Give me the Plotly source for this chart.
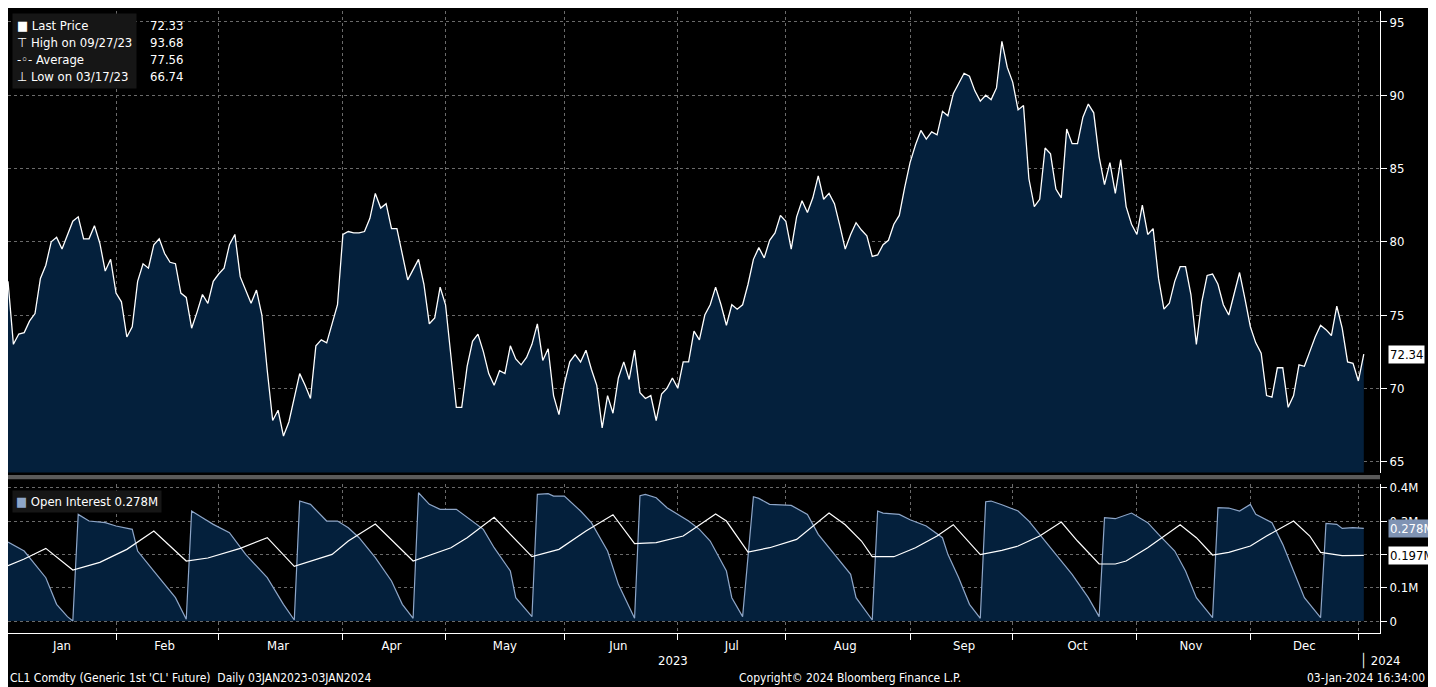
import pandas as pd
import plotly.graph_objects as go
from plotly.subplots import make_subplots

# CL1 daily last price, one value per trading day, 03JAN2023-03JAN2024
price = [
    77.3, 73.0, 73.7, 73.8, 74.6, 75.1, 77.5, 78.4, 80.0, 80.3, 79.5, 80.5, 81.4, 81.7, 80.2, 80.2, 81.1, 79.9,
    78.0, 78.8, 76.5, 75.9, 73.5, 74.2, 77.3, 78.5, 78.2, 79.8, 80.2, 79.2, 78.6, 78.5, 76.5, 76.2, 74.1, 75.2,
    76.4, 75.8, 77.3, 77.8, 78.2, 79.8, 80.5, 77.6, 76.7, 75.8, 76.7, 75.0, 71.2, 67.8, 68.5, 66.74, 67.7, 69.3,
    71.0, 70.2, 69.3, 72.9, 73.3, 73.1, 74.4, 75.7, 80.5, 80.7, 80.6, 80.6, 80.7,
    81.6, 83.3, 82.3, 82.6, 80.9, 80.9, 79.2, 77.4, 78.1, 78.8, 77.1, 74.4, 74.8, 76.9, 75.7, 72.2, 68.7, 68.7,
    71.5, 73.2, 73.7, 72.5, 71.0, 70.2, 71.2, 71.0, 72.9, 72.0, 71.6, 72.1, 73.0, 74.4, 71.9, 72.7, 69.5, 68.2,
    70.3, 71.8, 72.3, 71.8, 72.6, 71.3, 70.2, 67.3, 69.5, 68.3, 70.7, 71.8, 70.6, 72.6, 69.7, 69.3, 69.5, 67.8,
    69.6, 70.0, 70.7, 70.0,
    71.8, 71.8, 73.9, 73.3, 75.0, 75.7, 76.9, 75.7, 74.3, 75.7, 75.4, 75.7, 77.1, 78.8, 79.6, 78.9, 80.1, 80.6,
    81.8, 81.4, 79.5, 81.7, 82.8, 82.0, 83.0, 84.5, 82.9, 83.3, 82.6, 81.1, 79.5, 80.5, 81.3, 80.8, 80.4, 79.0,
    79.1, 79.8, 80.1, 81.2, 81.8, 83.7, 85.4, 86.6, 87.6, 87.0, 87.5, 87.3, 88.9, 88.6, 90.1, 90.8, 91.5, 91.3,
    90.3, 89.6, 90.0, 89.7, 90.5, 93.68, 91.9, 90.9, 89.0,
    89.3, 84.3, 82.4, 82.9, 86.4, 86.0, 83.6, 83.0, 87.7, 86.7, 86.7, 88.5, 89.4, 88.8, 85.8, 83.9, 85.4, 83.3,
    85.6, 82.4, 81.2, 80.5, 82.5, 80.5, 80.9, 77.5, 75.4, 75.8, 77.3, 78.3, 78.3, 76.4, 73.0, 75.9, 77.7, 77.8,
    77.1, 75.7, 75.0, 76.5, 77.9, 76.1, 74.2, 73.1, 72.4, 69.5, 69.4, 71.4, 71.4, 68.7, 69.5, 71.6, 71.5, 72.5,
    73.5, 74.3, 74.0, 73.6, 75.6, 74.1, 71.8, 71.7, 70.5, 72.33,
]

# Open interest (millions), read at trading-day positions
oi_day = [0, 3, 7, 9, 11, 12, 13, 15, 18, 20, 23, 24, 27, 31, 33, 34, 36, 38, 41, 44, 48, 51, 53, 54, 56, 59,
          61, 63, 65, 68, 71, 73, 75, 76, 78, 80, 83, 85, 88, 90, 93, 94, 97, 98, 100, 101, 103, 106, 108, 111,
          113, 116, 117, 118, 120, 122, 126, 128, 130, 133, 134, 136, 138, 139, 141, 145, 147, 148, 150, 153,
          156, 157, 160, 161, 162, 165, 167, 170, 173, 174, 176, 178, 180, 181, 182, 184, 187, 189, 191, 194,
          197, 200, 202, 203, 205, 208, 211, 213, 216, 218, 220, 223, 224, 226, 228, 230, 231, 234, 236, 238,
          240, 243, 244, 246, 247, 249, 251]
oi_val = [0.237, 0.21, 0.13, 0.05, 0.013, 0.0, 0.32, 0.30, 0.295, 0.285, 0.275, 0.21, 0.15, 0.07, 0.005, 0.33,
          0.31, 0.29, 0.265, 0.20, 0.13, 0.05, 0.003, 0.36, 0.35, 0.30, 0.30, 0.28, 0.25, 0.19, 0.12, 0.05, 0.008,
          0.385, 0.35, 0.335, 0.335, 0.31, 0.275, 0.22, 0.15, 0.07, 0.013, 0.38, 0.382, 0.375, 0.375, 0.33, 0.295,
          0.21, 0.11, 0.008, 0.376, 0.38, 0.37, 0.34, 0.30, 0.275, 0.24, 0.15, 0.07, 0.013, 0.373, 0.368, 0.35,
          0.347, 0.33, 0.32, 0.26, 0.20, 0.14, 0.07, 0.003, 0.33, 0.324, 0.32, 0.304, 0.285, 0.25, 0.20, 0.13,
          0.05, 0.008, 0.358, 0.36, 0.349, 0.33, 0.30, 0.26, 0.20, 0.14, 0.07, 0.013, 0.31, 0.307, 0.324, 0.295,
          0.26, 0.21, 0.15, 0.07, 0.01, 0.34, 0.339, 0.33, 0.35, 0.32, 0.295, 0.23, 0.15, 0.07, 0.01, 0.293,
          0.29, 0.278, 0.28, 0.278]

# second (white) open interest line, millions
oi2_day = [0, 3, 7, 12, 17, 22, 27, 33, 37, 43, 48, 53, 60, 63, 68, 75, 82, 85, 90, 97, 102, 107, 112, 116,
           120, 125, 131, 133, 137, 141, 146, 152, 155, 158, 160, 164, 168, 172, 175, 180, 184, 187, 191, 195,
           198, 202, 205, 207, 211, 214, 217, 220, 223, 226, 230, 233, 238, 241, 243, 247, 251]
oi2_val = [0.166, 0.186, 0.218, 0.153, 0.176, 0.215, 0.27, 0.18, 0.189, 0.218, 0.25, 0.164, 0.20, 0.24, 0.291,
           0.18, 0.22, 0.25, 0.311, 0.193, 0.215, 0.27, 0.319, 0.232, 0.235, 0.255, 0.321, 0.30, 0.207, 0.22,
           0.245, 0.324, 0.289, 0.24, 0.193, 0.193, 0.22, 0.255, 0.289, 0.199, 0.212, 0.225, 0.255, 0.297, 0.24,
           0.171, 0.171, 0.18, 0.22, 0.255, 0.289, 0.25, 0.198, 0.206, 0.225, 0.255, 0.30, 0.255, 0.206, 0.196,
           0.197]

holidays = ["2023-01-16", "2023-02-20", "2023-04-07", "2023-05-29", "2023-06-19", "2023-07-04",
            "2023-09-04", "2023-11-23", "2023-12-25", "2024-01-01"]

days = pd.bdate_range("2023-01-03", "2024-01-03")
days = days[~days.isin(pd.to_datetime(holidays))]
dates = pd.Series(days[:len(price)])
oi_dates = [dates[i] for i in oi_day]
oi2_dates = [dates[i] for i in oi2_day]
oi = [v * 1e6 for v in oi_val]
oi2 = [v * 1e6 for v in oi2_val]

# month labels sit on the middle trading day of each 2023 month
d23 = dates[dates.dt.year == 2023]
mid_month = [g.iloc[len(g) // 2] for _, g in d23.groupby(d23.dt.month)]

NAVY = "#04203c"
GRID = "#6a6a6a"
FONT = "DejaVu Sans Condensed, Liberation Sans, sans-serif"
TICKF = dict(color="white", size=13)

fig = make_subplots(rows=2, cols=1, shared_xaxes=True)

fig.add_trace(go.Scatter(x=dates, y=price, mode="lines", fill="tozeroy", fillcolor=NAVY,
                         line=dict(color="white", width=1.3), showlegend=False), row=1, col=1)
fig.add_trace(go.Scatter(x=oi_dates, y=oi, mode="lines", fill="tozeroy", fillcolor=NAVY,
                         line=dict(color="#8ea6c8", width=1.2), showlegend=False), row=2, col=1)
fig.add_trace(go.Scatter(x=oi2_dates, y=oi2, mode="lines",
                         line=dict(color="white", width=1.2), showlegend=False), row=2, col=1)

breaks = [dict(bounds=["sat", "mon"]), dict(values=holidays)]
fig.update_xaxes(rangebreaks=breaks, range=["2023-01-03", "2024-01-08"], zeroline=False)
fig.update_xaxes(showticklabels=False, dtick="M1", tick0="2023-01-01", showgrid=True,
                 gridcolor=GRID, griddash="dot", row=1, col=1)
fig.update_xaxes(tickvals=mid_month, tickformat="%b", ticks="", showgrid=False,
                 minor=dict(dtick="M1", tick0="2023-01-01", showgrid=True, gridcolor=GRID, griddash="dot",
                            ticks="outside", ticklen=6, tickcolor="white"),
                 showline=True, linecolor="white", tickfont=TICKF, row=2, col=1)

fig.update_yaxes(side="right", domain=[0.258, 1], range=[64.25, 95.75], tickvals=[65, 70, 75, 80, 85, 90, 95],
                 showgrid=True, gridcolor=GRID, griddash="dot", zeroline=False, ticks="outside",
                 ticklen=6, tickcolor="white", showline=True, linecolor="white", tickfont=TICKF, row=1, col=1)
fig.update_yaxes(side="right", domain=[0, 0.24], range=[-0.036e6, 0.412e6], tickvals=[0, 1e5, 2e5, 3e5, 4e5],
                 ticktext=["0", "0.1M", "0.2M", "0.3M", "0.4M"], showgrid=True, gridcolor=GRID,
                 griddash="dot", zeroline=False, ticks="outside", ticklen=6, tickcolor="white",
                 showline=True, linecolor="white", tickfont=TICKF, row=2, col=1)

# separator band between panels
fig.add_shape(type="rect", xref="paper", yref="paper", x0=0, x1=1.0, y0=0.247, y1=0.254,
              fillcolor="#5a5a5a", line=dict(width=0))

annotations = [
    dict(xref="paper", yref="paper", x=0.003, y=0.996, xanchor="left", yanchor="top", align="left",
         text="■ Last Price<br>⊤ High on 09/27/23<br>-◦- Average<br>⊥ Low on 03/17/23",
         bgcolor="#161616", font=dict(color="white", size=13), borderpad=4),
    dict(xref="paper", yref="paper", x=0.131, y=0.996, xanchor="right", yanchor="top", align="right",
         text="72.33<br>93.68<br>77.56<br>66.74", font=dict(color="white", size=13), borderpad=4),
    dict(xref="paper", yref="paper", x=0.003, y=0.23, xanchor="left", yanchor="top", align="left",
         text="<span style='color:#8ea6c8'>■</span> Open Interest 0.278M", bgcolor="#161616",
         font=dict(color="white", size=13), borderpad=3),
    dict(xref="paper", yref="y", x=1.0, y=price[-1], xanchor="left", text=f"{price[-1] + 0.01:.2f}",
         bgcolor="white", font=dict(color="black", size=13), xshift=8, borderpad=1),
    dict(xref="paper", yref="y2", x=1.0, y=oi[-1], xanchor="left", text=f"{oi_val[-1]:.3f}M",
         bgcolor="#7f93b3", font=dict(color="white", size=13), xshift=8, borderpad=1),
    dict(xref="paper", yref="y2", x=1.0, y=oi2[-1], xanchor="left", text=f"{oi2_val[-1]:.3f}M",
         bgcolor="white", font=dict(color="black", size=13), xshift=8, borderpad=1),
    dict(xref="paper", yref="paper", x=0.485, y=-0.045, yanchor="middle", text="2023",
         font=dict(color="white", size=13)),
    dict(xref="x2", yref="paper", x=dates.iloc[-2], y=-0.045, yanchor="middle", xanchor="left",
         text="│ 2024", font=dict(color="white", size=13)),
    dict(xref="paper", yref="paper", x=0.0, y=-0.072, xanchor="left", yanchor="middle",
         text="CL1 Comdty (Generic 1st 'CL' Future)  Daily 03JAN2023-03JAN2024", font=dict(color="white", size=12)),
    dict(xref="paper", yref="paper", x=0.614, y=-0.072, xanchor="center", yanchor="middle",
         text="Copyright© 2024 Bloomberg Finance L.P.", font=dict(color="white", size=12)),
    dict(xref="paper", yref="paper", x=1.034, y=-0.072, xanchor="right", yanchor="middle",
         text="03-Jan-2024 16:34:00", font=dict(color="white", size=12)),
]
for a in annotations:
    a.setdefault("showarrow", False)
fig.update_layout(
    annotations=annotations,
    width=1428, height=679,
    paper_bgcolor="black", plot_bgcolor="black",
    font=dict(family=FONT, color="white"),
    margin=dict(l=0, r=56, t=0, b=54),
    showlegend=False,
)

fig.write_html("out.html")
